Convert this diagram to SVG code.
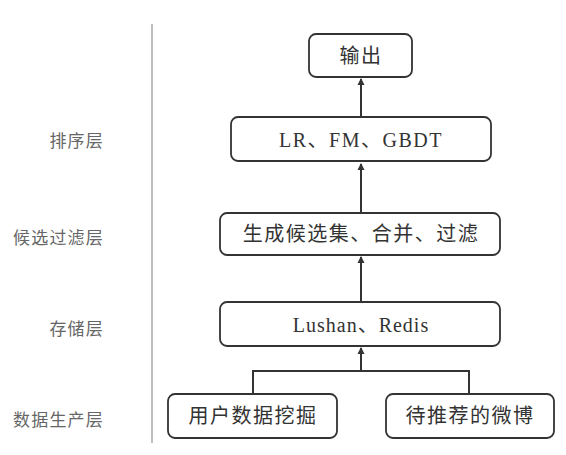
<svg xmlns="http://www.w3.org/2000/svg" width="566" height="455" viewBox="0 0 566 455">
<style>
.box{fill:#fff;stroke:#333;stroke-width:1.8}
.t{font-family:"Liberation Serif","Noto Sans CJK SC",serif;font-size:20px;fill:#333;text-anchor:middle;dominant-baseline:central;letter-spacing:1.5px}
.lab{font-family:"Noto Sans CJK SC",sans-serif;font-size:17px;fill:#666;text-anchor:end;dominant-baseline:central;letter-spacing:1.2px}
.c{fill:none;stroke:#333;stroke-width:2}
</style>
<defs>
<marker id="ah" markerWidth="8" markerHeight="8" refX="6" refY="4" orient="auto" markerUnits="userSpaceOnUse">
<path d="M0,0.5 L7,4 L0,7.5 Z" fill="#333"/>
</marker>
</defs>
<rect width="566" height="455" fill="#fff"/>
<line x1="152" y1="24" x2="152" y2="443" stroke="#aaa" stroke-width="1.5"/>
<g id="labels">
<text class="lab" x="104" y="139">排序层</text>
<text class="lab" x="104" y="236">候选过滤层</text>
<text class="lab" x="104" y="327">存储层</text>
<text class="lab" x="104" y="418">数据生产层</text>
</g>
<g id="connectors">
<line class="c" x1="361" y1="117" x2="361" y2="79" marker-end="url(#ah)"/>
<line class="c" x1="361" y1="213" x2="361" y2="164" marker-end="url(#ah)"/>
<line class="c" x1="361" y1="302" x2="361" y2="257" marker-end="url(#ah)"/>
<line class="c" x1="361" y1="371" x2="361" y2="348" marker-end="url(#ah)"/>
<polyline class="c" points="253,394 253,371 469,371 469,394"/>
</g>
<g id="n-output">
<rect class="box" x="309" y="34" width="103" height="43" rx="7"/>
<text class="t" x="361" y="56">输出</text>
</g>
<g id="n-rank">
<rect class="box" x="231" y="117" width="260" height="44" rx="7"/>
<text class="t" x="361" y="140">LR、FM、GBDT</text>
</g>
<g id="n-filter">
<rect class="box" x="220" y="213" width="280" height="42" rx="7"/>
<text class="t" x="361" y="234">生成候选集、合并、过滤</text>
</g>
<g id="n-store">
<rect class="box" x="220" y="302" width="280" height="44" rx="7"/>
<text class="t" x="361" y="325" style="letter-spacing:1px">Lushan、Redis</text>
</g>
<g id="n-mine">
<rect class="box" x="168" y="394" width="169" height="44" rx="7"/>
<text class="t" x="253" y="416">用户数据挖掘</text>
</g>
<g id="n-weibo">
<rect class="box" x="386" y="394" width="168" height="44" rx="7"/>
<text class="t" x="470" y="416">待推荐的微博</text>
</g>
</svg>
